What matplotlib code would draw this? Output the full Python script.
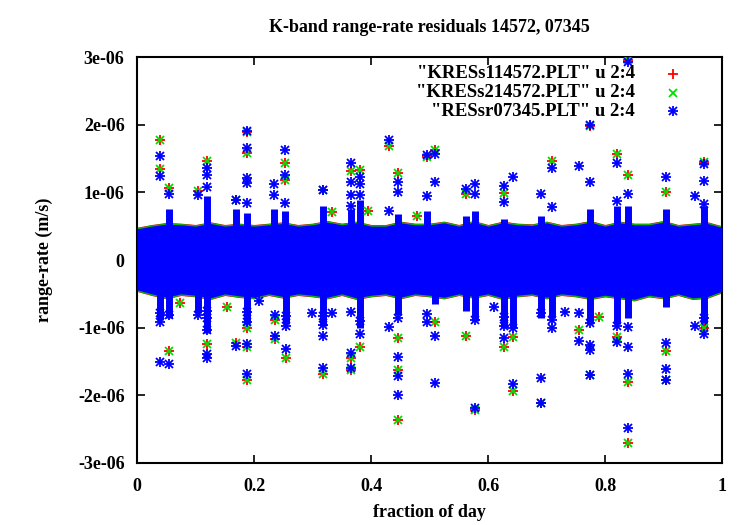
import numpy as np
import matplotlib
matplotlib.use("Agg")
import matplotlib.pyplot as plt

plt.rcParams['font.family'] = ['Liberation Serif', 'DejaVu Serif']
plt.rcParams['font.weight'] = 'bold'

# dense core of residuals: envelope (units 1e-6 m/s)
env_x = [0.0, 0.025, 0.05, 0.075, 0.1, 0.125, 0.15, 0.175, 0.2, 0.225, 0.25,
         0.275, 0.3, 0.325, 0.35, 0.375, 0.4, 0.425, 0.45, 0.475, 0.5,
         0.525, 0.55, 0.575, 0.6, 0.625, 0.65, 0.675, 0.7, 0.725, 0.75,
         0.775, 0.8, 0.825, 0.85, 0.875, 0.9, 0.925, 0.95, 0.975, 1.0]
env_top = [0.46, 0.50, 0.53, 0.52, 0.50, 0.54, 0.50, 0.52, 0.50, 0.52, 0.54,
           0.50, 0.52, 0.56, 0.52, 0.55, 0.50, 0.50, 0.55, 0.52, 0.52,
           0.55, 0.50, 0.56, 0.50, 0.55, 0.52, 0.51, 0.55, 0.50, 0.52,
           0.56, 0.50, 0.55, 0.52, 0.52, 0.56, 0.50, 0.52, 0.54, 0.48]
env_bot = [-0.44, -0.50, -0.55, -0.50, -0.52, -0.56, -0.50, -0.53, -0.55, -0.50, -0.54,
           -0.50, -0.52, -0.55, -0.50, -0.56, -0.52, -0.50, -0.55, -0.50, -0.52,
           -0.55, -0.50, -0.54, -0.50, -0.56, -0.52, -0.50, -0.55, -0.50, -0.52,
           -0.56, -0.52, -0.55, -0.58, -0.52, -0.55, -0.50, -0.56, -0.54, -0.46]

# dense columns of points sticking out of the core
spike_up_x = [0.055, 0.119, 0.17, 0.188, 0.234, 0.253, 0.318, 0.366, 0.381, 0.446,
              0.495, 0.562, 0.577, 0.627, 0.69, 0.774, 0.821, 0.839, 0.904, 0.969]
spike_up_y = [0.75, 0.95, 0.75, 0.70, 0.75, 0.72, 0.80, 0.75, 0.88, 0.68,
              0.72, 0.65, 0.72, 0.60, 0.65, 0.75, 0.80, 0.80, 0.75, 0.80]
spike_dn_x = [0.039, 0.055, 0.105, 0.119, 0.188, 0.254, 0.318, 0.381, 0.446, 0.51,
              0.562, 0.577, 0.627, 0.643, 0.69, 0.709, 0.774, 0.821, 0.839, 0.904, 0.969]
spike_dn_y = [-0.88, -0.85, -0.78, -1.08, -0.95, -0.95, -0.98, -1.0, -0.82, -0.65,
              -0.75, -0.90, -1.0, -1.0, -0.85, -0.85, -0.95, -0.95, -0.85, -0.70, -1.05]

# isolated outliers, KRESs1 / KRESs2 (nearly identical)
kres_x = [0.039, 0.039, 0.055, 0.105, 0.119, 0.188, 0.188, 0.253, 0.253, 0.366,
          0.381, 0.395, 0.431, 0.446, 0.495, 0.51, 0.562, 0.627, 0.709, 0.774,
          0.821, 0.839, 0.839, 0.904, 0.969, 0.17, 0.318, 0.333, 0.478,
          0.055, 0.073, 0.119, 0.153, 0.169, 0.188, 0.188, 0.188, 0.235, 0.235,
          0.254, 0.318, 0.366, 0.366, 0.381, 0.446, 0.446, 0.446, 0.51, 0.562,
          0.577, 0.627, 0.643, 0.643, 0.69, 0.756, 0.774, 0.79, 0.821, 0.839,
          0.839, 0.904, 0.904, 0.969]
kres_y = [1.78, 1.34, 1.06, 1.02, 1.47, 1.89, 1.58, 1.44, 1.18, 1.31,
          1.33, 0.73, 1.68, 1.28, 1.52, 1.62, 0.97, 0.99, 1.47, 1.98,
          1.56, 2.95, 1.25, 1.0, 1.45, 0.88, 1.03, 0.71, 0.65,
          -1.34, -0.63, -1.24, -0.70, -1.22, -1.0, -1.29, -1.78, -0.89, -1.17,
          -1.45, -1.69, -1.45, -1.63, -1.28, -1.15, -1.62, -2.36, -0.92, -1.12,
          -2.22, -1.28, -1.14, -1.93, -2.11, -1.03, -1.70, -0.84, -1.14, -1.81,
          -2.71, -1.35, -1.78, -1.0]

# isolated outliers, RESsr07345
res_x = [0.039, 0.039, 0.055, 0.105, 0.119, 0.119, 0.119, 0.188, 0.188, 0.188,
         0.188, 0.188, 0.17, 0.234, 0.234, 0.253, 0.253, 0.253, 0.318, 0.366,
         0.366, 0.366, 0.366, 0.381, 0.381, 0.381, 0.431, 0.431, 0.446, 0.446,
         0.495, 0.495, 0.51, 0.51, 0.562, 0.577, 0.577, 0.627, 0.627, 0.643,
         0.69, 0.709, 0.709, 0.756, 0.774, 0.774, 0.821, 0.821, 0.839, 0.839,
         0.904, 0.953, 0.969, 0.969, 0.969,
         0.039, 0.039, 0.039, 0.055, 0.055, 0.105, 0.119, 0.119, 0.119, 0.119,
         0.119, 0.169, 0.188, 0.188, 0.188, 0.188, 0.209, 0.235, 0.235, 0.254,
         0.254, 0.254, 0.299, 0.318, 0.318, 0.318, 0.318, 0.333, 0.366, 0.366,
         0.366, 0.381, 0.381, 0.431, 0.446, 0.446, 0.446, 0.446, 0.495, 0.495,
         0.51, 0.51, 0.577, 0.577, 0.61, 0.627, 0.627, 0.627, 0.643, 0.643,
         0.69, 0.69, 0.69, 0.709, 0.709, 0.731, 0.756, 0.756, 0.774, 0.774,
         0.774, 0.774, 0.821, 0.821, 0.839, 0.839, 0.839, 0.839, 0.904, 0.904,
         0.904, 0.953, 0.969, 0.969]
res_y = [1.53, 1.24, 0.98, 0.96, 1.36, 1.26, 1.08, 1.91, 1.65, 1.21,
         1.14, 0.84, 0.88, 1.12, 0.96, 1.62, 1.26, 0.84, 1.03, 1.43,
         1.15, 0.96, 0.80, 1.23, 1.12, 0.96, 1.77, 0.73, 1.16, 1.01,
         1.55, 0.94, 1.57, 1.15, 1.05, 1.13, 0.98, 1.10, 0.85, 1.23,
         0.97, 1.36, 0.78, 1.39, 2.0, 1.16, 1.43, 0.87, 2.93, 0.98,
         1.22, 0.95, 1.42, 1.17, 0.83,
         -1.51, -0.78, -0.92, -1.54, -0.82, -0.82, -0.75, -0.85, -1.04, -1.39,
         -1.45, -1.27, -0.77, -0.91, -1.24, -1.69, -0.6, -0.82, -1.12, -0.83,
         -0.97, -1.31, -0.79, -0.83, -0.96, -1.12, -1.59, -0.78, -0.77, -1.38,
         -1.59, -0.9, -1.09, -0.99, -0.86, -1.43, -1.71, -1.99, -0.8, -0.92,
         -1.12, -1.82, -0.89, -2.18, -0.7, -0.84, -0.98, -1.16, -1.0, -1.83,
         -0.79, -1.74, -2.11, -0.89, -1.0, -0.77, -0.79, -1.19, -0.93, -1.26,
         -1.33, -1.70, -0.97, -1.21, -0.99, -1.29, -1.69, -2.48, -1.22, -1.61,
         -1.78, -0.97, -0.85, -1.1]

labels = ['"KRESs114572.PLT" u 2:4', '"KRESs214572.PLT" u 2:4', '"RESsr07345.PLT" u 2:4']
colors = ['#ff0000', '#00e000', '#0000ff']

fig = plt.figure(figsize=(7.5, 5.25), dpi=100)
ax = fig.add_axes([0.1827, 0.1181, 0.78, 0.7733])

s = 1e-6
ex = np.array(env_x)
top = np.array(env_top)
bot = np.array(env_bot)
# red, green, blue cores, each a bit narrower than the one below it
ax.fill_between(ex, (top + 0.025) * s, (bot - 0.025) * s, color=colors[0], lw=0, zorder=1)
ax.fill_between(ex, (top + 0.02) * s, (bot - 0.02) * s, color='#10b010', lw=0, zorder=2)
ax.fill_between(ex, top * s, bot * s, color=colors[2], lw=0, zorder=3)
ax.vlines(spike_up_x, 0, np.array(spike_up_y) * s, color=colors[2], lw=5, zorder=3)
ax.vlines(spike_dn_x, np.array(spike_dn_y) * s, 0, color=colors[2], lw=5, zorder=3)

ky = np.array(kres_y) * s
ax.plot(kres_x, ky, ls='none', marker='+', ms=7, mew=1.3, color=colors[0], zorder=4)
ax.plot(kres_x, ky, ls='none', marker='x', ms=5.5, mew=1.3, color=colors[1], zorder=5)
# asterisk = plus + cross
ry = np.array(res_y) * s
ax.plot(res_x, ry, ls='none', marker='+', ms=7, mew=1.3, color=colors[2], zorder=6)
ax.plot(res_x, ry, ls='none', marker='x', ms=5.5, mew=1.3, color=colors[2], zorder=6)

ax.set_xlim(0, 1)
ax.set_ylim(-3e-6, 3e-6)
ax.set_xticks([0, 0.2, 0.4, 0.6, 0.8, 1])
ax.set_xticklabels(['0', '0.2', '0.4', '0.6', '0.8', '1'])
ax.set_yticks([-3e-6, -2e-6, -1e-6, 0, 1e-6, 2e-6, 3e-6])
ax.set_yticklabels(['-3e-06', '-2e-06', '-1e-06', '0', '1e-06', '2e-06', '3e-06'])
ax.tick_params(direction='in', length=6, width=1.2, top=True, right=True,
               labelsize=13)
ax.tick_params(axis='x', pad=11)
ax.tick_params(axis='y', pad=9)
for sp in ax.spines.values():
    sp.set_linewidth(1.5)

ax.set_title('K-band range-rate residuals 14572, 07345', fontsize=13, fontweight='bold', pad=18)
ax.set_xlabel('fraction of day', fontsize=13, fontweight='bold', labelpad=6)
ax.set_ylabel('range-rate (m/s)', fontsize=13, fontweight='bold', labelpad=18)

# gnuplot-style key: right aligned text, sample marker to the right
key_y = [0.959, 0.912, 0.866]
for lab, y in zip(labels, key_y):
    ax.text(0.851, y, lab, transform=ax.transAxes, ha='right', va='center',
            fontsize=13.5, fontweight='bold', zorder=7)
ax.plot([0.917], [key_y[0]], transform=ax.transAxes, marker='+', ms=7, mew=1.3, color=colors[0], ls='none')
ax.plot([0.917], [key_y[1]], transform=ax.transAxes, marker='x', ms=5.5, mew=1.3, color=colors[1], ls='none')
ax.plot([0.917], [key_y[2]], transform=ax.transAxes, marker='+', ms=7, mew=1.3, color=colors[2], ls='none')
ax.plot([0.917], [key_y[2]], transform=ax.transAxes, marker='x', ms=5.5, mew=1.3, color=colors[2], ls='none')

fig.savefig('out.png', dpi=100)
